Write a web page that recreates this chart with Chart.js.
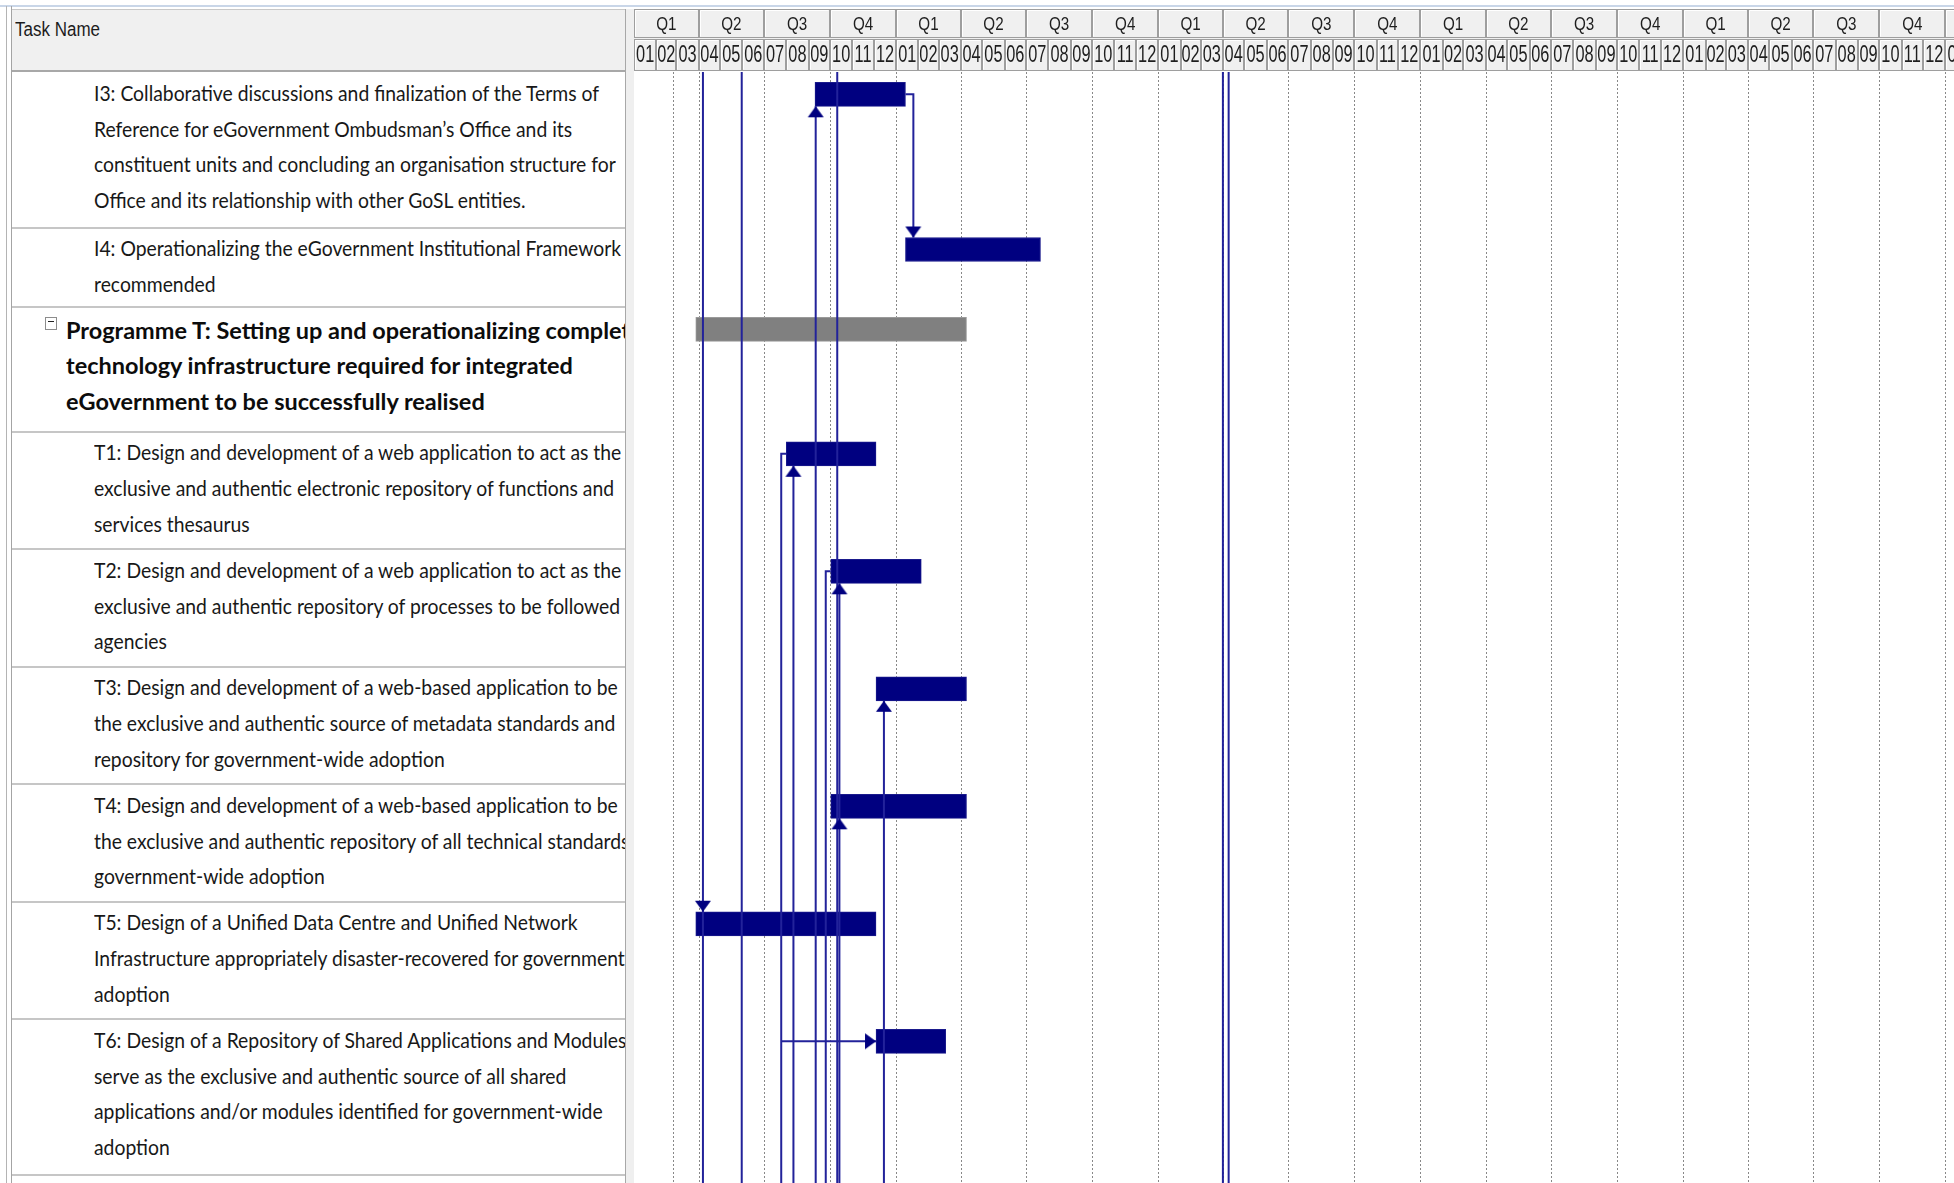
<!DOCTYPE html>
<html><head><meta charset="utf-8">
<script src="https://cdn.jsdelivr.net/npm/chart.js@4.4.1/dist/chart.umd.min.js"></script>
<style>
html,body{margin:0;padding:0;background:#fff;}
body{width:1954px;height:1183px;position:relative;overflow:hidden;}
#frameTop{position:absolute;left:0;top:5px;width:1954px;height:2px;background:#c9d6e8;}
#lb1{position:absolute;left:6px;top:6px;width:1px;height:1177px;background:#b4b4b4;}
#lb2{position:absolute;left:11px;top:6px;width:1px;height:1177px;background:#a4a4a4;}
#taskHead{position:absolute;left:12px;top:9px;width:613px;height:61px;background:#f0f0f0;border-top:1px solid #c8c8c8;box-sizing:border-box;}
#taskHeadLine{position:absolute;left:12px;top:70px;width:613px;height:2px;background:#a8a8a8;}
#taskHead span{position:absolute;left:3px;top:8px;font:20px "Liberation Sans",Arial,sans-serif;color:#1c1c1c;white-space:nowrap;transform-origin:left top;}
#rows{position:absolute;left:12px;top:72px;width:613px;height:1111px;overflow:hidden;}
.row{position:absolute;left:0;width:613px;overflow:hidden;}
.sep{position:absolute;left:0;width:613px;height:2px;background:#c6c6c6;}
.line{position:absolute;white-space:nowrap;height:36px;line-height:36px;font-family:Lato,"Open Sans",sans-serif;font-size:22px;color:#181818;transform-origin:left center;}
.line.bold{font-weight:700;font-size:23px;color:#0c0c0c;}
.box{position:absolute;width:10px;height:11px;border:1px solid #8c8c8c;background:#fff;}
.box:after{content:"";position:absolute;left:2px;top:3px;width:6px;height:1px;background:#222;}
#splitter{position:absolute;left:625px;top:9px;width:9px;height:1174px;background:#efefef;border-left:1px solid #a8a8a8;box-sizing:border-box;}
#gantt{position:absolute;left:634px;top:0;}
</style></head>
<body>
<div id="frameTop"></div>
<div id="lb1"></div><div id="lb2"></div>
<div id="taskHead"><span id="taskHeadText">Task Name</span></div>
<div id="taskHeadLine"></div>
<div id="rows"></div>
<div id="splitter"></div>
<canvas id="gantt" width="1320" height="1183"></canvas>
<script>
// ---------- data ----------
const years = [2021, 2022, 2023, 2024, 2025, 2026];
const quarterLabels = ['Q1', 'Q2', 'Q3', 'Q4'];
const monthLabels = ['01','02','03','04','05','06','07','08','09','10','11','12'];
const viewStart = '2021-01-01';
const viewEnd = '2026-01-13';
const markerDates = ['2021-02-24'];

const taskNames = [
  ['I3: Collaborative discussions and finalization of the Terms of','Reference for eGovernment Ombudsman\u2019s Office and its','constituent units and concluding an organisation structure for','Office and its relationship with other GoSL entities.'],
  ['I4: Operationalizing the eGovernment Institutional Framework','recommended'],
  ['Programme T: Setting up and operationalizing complete','technology infrastructure required for integrated','eGovernment to be successfully realised'],
  ['T1: Design and development of a web application to act as the','exclusive and authentic electronic repository of functions and','services thesaurus'],
  ['T2: Design and development of a web application to act as the','exclusive and authentic repository of processes to be followed by','agencies'],
  ['T3: Design and development of a web-based application to be','the exclusive and authentic source of metadata standards and','repository for government-wide adoption'],
  ['T4: Design and development of a web-based application to be','the exclusive and authentic repository of all technical standards for','government-wide adoption'],
  ['T5: Design of a Unified Data Centre and Unified Network','Infrastructure appropriately disaster-recovered for government-wide','adoption'],
  ['T6: Design of a Repository of Shared Applications and Modules to','serve as the exclusive and authentic source of all shared','applications and/or modules identified for government-wide','adoption']
];
const taskKinds = ['task','task','summary','task','task','task','task','task','task'];
const taskStart = ['2021-09-10','2022-01-14','2021-03-28','2021-08-01','2021-10-02','2021-12-04','2021-10-02','2021-03-28','2021-12-04'];
const taskEnd   = ['2022-01-14','2022-07-21','2022-04-09','2021-12-04','2022-02-05','2022-04-09','2022-04-09','2021-12-04','2022-03-11'];

// dependency link paths: waypoints {d: date, r: task row, a: anchor}
const linkPaths = [
  [{d:'2021-04-07',a:'top'},{d:'2021-04-07',a:'bottom'}],
  [{d:'2021-05-31',a:'top'},{d:'2021-05-31',a:'bottom'}],
  [{d:'2021-08-01',r:3,a:'mid'},{d:'2021-07-25',r:3,a:'mid'},{d:'2021-07-25',a:'bottom'}],
  [{d:'2021-07-25',r:8,a:'mid'},{d:'2021-12-04',r:8,a:'mid'}],
  [{d:'2021-08-11',r:3,a:'barBottom'},{d:'2021-08-11',a:'bottom'}],
  [{d:'2021-09-11',r:0,a:'barBottom'},{d:'2021-09-11',a:'bottom'}],
  [{d:'2021-10-02',r:4,a:'mid'},{d:'2021-09-25',r:4,a:'mid'},{d:'2021-09-25',a:'bottom'}],
  [{d:'2021-10-11',a:'top'},{d:'2021-10-11',a:'bottom'}],
  [{d:'2021-10-14',r:4,a:'barBottom'},{d:'2021-10-14',a:'bottom'}],
  [{d:'2021-12-15',r:5,a:'barBottom'},{d:'2021-12-15',a:'bottom'}],
  [{d:'2022-01-14',r:0,a:'mid'},{d:'2022-01-25',r:0,a:'mid'},{d:'2022-01-25',r:1,a:'barTop'}],
  [{d:'2023-04-01',a:'top'},{d:'2023-04-01',a:'bottom'}],
  [{d:'2023-04-09',a:'top'},{d:'2023-04-09',a:'bottom'}]
];
const linkArrows = [
  {d:'2021-04-07',r:7,a:'barTop',dir:'down'},
  {d:'2021-08-11',r:3,a:'barBottom',dir:'up'},
  {d:'2021-09-11',r:0,a:'barBottom',dir:'up'},
  {d:'2021-10-14',r:4,a:'barBottom',dir:'up'},
  {d:'2021-10-14',r:6,a:'barBottom',dir:'up'},
  {d:'2021-12-15',r:5,a:'barBottom',dir:'up'},
  {d:'2022-01-25',r:1,a:'barTop',dir:'down'},
  {d:'2021-12-04',r:8,a:'mid',dir:'right'}
];

// ---------- layout ----------
const BODY_TOP = 72, PAGE_H = 1183;
const LINE_STEP = 37.7, ROW_PAD = 4.4, SUMMARY_EXTRA = 7;
const BAR_OFF = 10, BAR_H = 24;
const NAVY = '#000080', LINK = '#22229a';

function dayOf(s){const [y,m,d]=s.split('-').map(Number);const [y0,m0,d0]=viewStart.split('-').map(Number);return (Date.UTC(y,m-1,d)-Date.UTC(y0,m0-1,d0))/864e5;}
const rowHeights = taskNames.map((l,i)=> l.length*LINE_STEP + ROW_PAD + (taskKinds[i]==='summary'?SUMMARY_EXTRA:0));
const rowTops = []; {let y = BODY_TOP + 0.3; rowHeights.forEach(h=>{rowTops.push(y); y+=h;}); rowTops.push(y);}
function anchorY(w){
  if (w.a==='top') return BODY_TOP;
  if (w.a==='bottom') return PAGE_H;
  const t = rowTops[w.r];
  if (w.a==='barTop') return t + BAR_OFF;
  if (w.a==='barBottom') return t + BAR_OFF + BAR_H;
  return t + BAR_OFF + BAR_H/2;
}

// ---------- left table ----------
const mctx = document.createElement('canvas').getContext('2d');
mctx.font = '22px Lato'; const scaleN = 506 / mctx.measureText(taskNames[0][0]).width;
mctx.font = 'bold 23px Lato'; const scaleB = 508 / mctx.measureText(taskNames[2][1]).width;
mctx.font = '20px "Liberation Sans"'; const scaleH = 85 / mctx.measureText('Task Name').width;
document.getElementById('taskHeadText').style.transform = `scaleX(${scaleH})`;

const rowsEl = document.getElementById('rows');
taskNames.forEach((lines, i) => {
  const top = rowTops[i] - BODY_TOP;
  const row = document.createElement('div');
  row.className = 'row'; row.style.top = top + 'px'; row.style.height = rowHeights[i] + 'px';
  const summary = taskKinds[i] === 'summary';
  lines.forEach((t, j) => {
    const s = document.createElement('div');
    s.className = 'line' + (summary ? ' bold' : '');
    s.textContent = t;
    const c = summary ? 22.4 + j*35.5 : 20.5 + j*35.8;
    s.style.top = (c - 18) + 'px';
    s.style.left = summary ? '54px' : '81.5px';
    s.style.transform = `scaleX(${summary ? scaleB : scaleN})`;
    row.appendChild(s);
  });
  if (summary) { const b = document.createElement('div'); b.className = 'box'; b.style.left = '33px'; b.style.top = '10px'; row.appendChild(b); }
  rowsEl.appendChild(row);
  const sep = document.createElement('div'); sep.className = 'sep'; sep.style.top = (rowTops[i+1] - BODY_TOP - 1) + 'px';
  rowsEl.appendChild(sep);
});

// ---------- arrow glyph ----------
const arrowImg = document.createElement('canvas'); arrowImg.width = 24; arrowImg.height = 24;
{const a = arrowImg.getContext('2d'); a.fillStyle = NAVY; a.beginPath(); a.moveTo(12,12); a.lineTo(20,23); a.lineTo(4,23); a.closePath(); a.fill();}
const rotOf = {up:0, down:180, right:90};

// ---------- plugins ----------
const pad2 = n => String(n).padStart(2,'0');
const gridPlugin = {
  id: 'ganttGrid',
  beforeDatasetsDraw(chart){
    const ctx = chart.ctx, xs = chart.scales.x, area = chart.chartArea;
    const dates = [];
    years.forEach(y => quarterLabels.forEach((q,qi) => dates.push(`${y}-${pad2(qi*3+1)}-01`)));
    markerDates.forEach(d => dates.push(d));
    ctx.save();
    ctx.strokeStyle = '#888888'; ctx.lineWidth = 1; ctx.setLineDash([2,2]);
    dates.forEach(d => {
      const x = Math.round(xs.getPixelForValue(dayOf(d))) + 0.5;
      if (x < 2 || x > chart.width) return;
      ctx.beginPath(); ctx.moveTo(x, area.top); ctx.lineTo(x, area.bottom); ctx.stroke();
    });
    ctx.restore();
  }
};
function headerCell(ctx, a, b, y0, y1, label, font, sx){
  ctx.strokeStyle = '#9e9e9e'; ctx.lineWidth = 1;
  ctx.strokeRect(Math.round(a)+0.5, y0+0.5, Math.round(b)-Math.round(a)-1, y1-y0-1);
  ctx.strokeStyle = '#ffffff';
  ctx.beginPath(); ctx.moveTo(Math.round(a)+1.5, y1-1.5); ctx.lineTo(Math.round(a)+1.5, y0+1.5); ctx.lineTo(Math.round(b)-1.5, y0+1.5); ctx.stroke();
  ctx.save();
  ctx.beginPath(); ctx.rect(a+1, y0, b-a-2, y1-y0); ctx.clip();
  ctx.translate((a+b)/2, (y0+y1)/2 + 1);
  ctx.scale(sx, 1);
  ctx.fillStyle = '#1e1e1e'; ctx.font = font; ctx.textAlign = 'center'; ctx.textBaseline = 'middle';
  ctx.fillText(label, 0, 0);
  ctx.restore();
}
const headerPlugin = {
  id: 'ganttHeader',
  afterDraw(chart){
    const ctx = chart.ctx, xs = chart.scales.x;
    ctx.save();
    ctx.fillStyle = '#f0f0f0'; ctx.fillRect(0, 9, chart.width, 62);
    years.forEach(y => {
      quarterLabels.forEach((q, qi) => {
        const a = xs.getPixelForValue(dayOf(`${y}-${pad2(qi*3+1)}-01`));
        const b = xs.getPixelForValue(dayOf(qi===3 ? `${y+1}-01-01` : `${y}-${pad2(qi*3+4)}-01`));
        headerCell(ctx, a, b, 9, 38, q, '19px "Liberation Sans"', 0.8);
      });
      monthLabels.forEach((m, mi) => {
        const a = xs.getPixelForValue(dayOf(`${y}-${m}-01`));
        const b = xs.getPixelForValue(dayOf(mi===11 ? `${y+1}-01-01` : `${y}-${pad2(mi+2)}-01`));
        headerCell(ctx, a, b, 39, 71, m, '23px "Liberation Sans"', 0.71);
      });
    });
    ctx.restore();
  }
};

// ---------- chart ----------
const barData = taskNames.map((_, i) => ({y: rowTops[i] + BAR_OFF + BAR_H/2, x: [dayOf(taskStart[i]), dayOf(taskEnd[i])]}));
const datasets = [{
  type: 'bar', indexAxis: 'y', data: barData, order: 2,
  backgroundColor: taskKinds.map(k => k==='summary' ? '#808080' : NAVY),
  borderColor: taskKinds.map(k => k==='summary' ? '#9a9a9a' : '#1a1a8c'), borderWidth: 1, borderSkipped: false,
  barThickness: BAR_H
}];
linkPaths.forEach(p => datasets.push({
  type: 'line', order: 1, data: p.map(w => ({x: dayOf(w.d), y: anchorY(w)})),
  borderColor: LINK, borderWidth: 2, pointRadius: 0, fill: false, tension: 0
}));
datasets.push({
  type: 'scatter', order: 0,
  data: linkArrows.map(w => ({x: dayOf(w.d), y: anchorY(w)})),
  pointStyle: arrowImg, pointRotation: linkArrows.map(w => rotOf[w.dir]), pointRadius: 8
});

new Chart(document.getElementById('gantt'), {
  type: 'bar',
  data: {datasets},
  options: {
    responsive: false, animation: false, devicePixelRatio: 1,
    layout: {padding: {top: BODY_TOP, left: 0, right: 0, bottom: 0}, autoPadding: false},
    plugins: {legend: {display: false}, tooltip: {enabled: false}},
    scales: {
      x: {type: 'linear', display: false, offset: false, grid: {offset: false}, min: dayOf(viewStart), max: dayOf(viewEnd)},
      y: {type: 'linear', display: false, offset: false, grid: {offset: false}, reverse: true, min: BODY_TOP, max: PAGE_H}
    }
  },
  plugins: [gridPlugin, headerPlugin]
});
</script>
</body></html>
